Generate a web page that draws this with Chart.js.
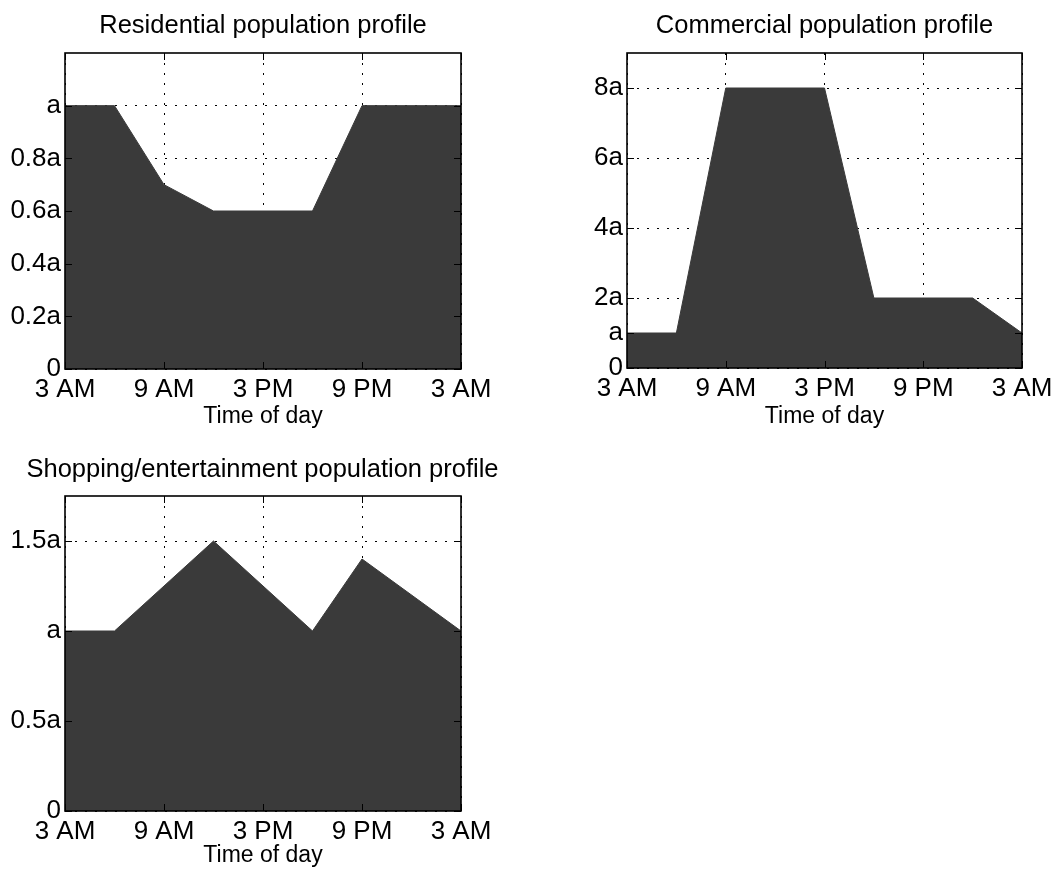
<!DOCTYPE html>
<html>
<head>
<meta charset="utf-8">
<script src="https://cdn.jsdelivr.net/npm/chart.js@4.4.0/dist/chart.umd.min.js"></script>
<style>
  html, body { margin: 0; padding: 0; background: #fff; }
  body { width: 1060px; height: 876px; position: relative; overflow: hidden; }
  canvas { position: absolute; }
</style>
</head>
<body>
<canvas id="res" width="530" height="440" style="left:0px;top:0px;"></canvas>
<canvas id="com" width="500" height="440" style="left:560px;top:0px;"></canvas>
<canvas id="shop" width="530" height="436" style="left:0px;top:440px;"></canvas>
<script>
// ---- data ----
const xTickValues = [0, 6, 12, 18, 24];          // hours after 3 AM
const xTickLabels = ['3 AM', '9 AM', '3 PM', '9 PM', '3 AM'];

const resHours  = [0, 3, 6, 9, 15, 18, 24];
const resValues = [1, 1, 0.7, 0.6, 0.6, 1, 1];
const resTicks  = [0, 0.2, 0.4, 0.6, 0.8, 1];
const resLabels = ['0', '0.2a', '0.4a', '0.6a', '0.8a', 'a'];

const comHours  = [0, 3, 6, 12, 15, 21, 24];
const comValues = [1, 1, 8, 8, 2, 2, 1];
const comTicks  = [0, 1, 2, 4, 6, 8];
const comLabels = ['0', 'a', '2a', '4a', '6a', '8a'];

const shopHours  = [0, 3, 9, 15, 18, 24];
const shopValues = [1, 1, 1.5, 1, 1.4, 1];
const shopTicks  = [0, 0.5, 1, 1.5];
const shopLabels = ['0', '0.5a', 'a', '1.5a'];

const FONT = "'Liberation Sans', Arial, Helvetica, sans-serif";
const FILL = '#3a3a3a';

const framePlugin = {
  id: 'frame',
  afterDatasetsDraw(chart) {
    const {ctx, chartArea: a, scales} = chart;
    ctx.save();
    ctx.strokeStyle = '#000';
    ctx.lineWidth = 1.6;
    ctx.strokeRect(a.left, a.top, a.right - a.left, a.bottom - a.top);
    ctx.lineWidth = 1;
    const L = 7;
    ctx.beginPath();
    scales.x.ticks.forEach(t => {
      const px = Math.round(scales.x.getPixelForValue(t.value)) + 0.5;
      ctx.moveTo(px, a.top); ctx.lineTo(px, a.top + L);
      ctx.moveTo(px, a.bottom); ctx.lineTo(px, a.bottom - L);
    });
    scales.y.ticks.forEach(t => {
      const py = Math.round(scales.y.getPixelForValue(t.value)) + 0.5;
      ctx.moveTo(a.left, py); ctx.lineTo(a.left + L, py);
      ctx.moveTo(a.right, py); ctx.lineTo(a.right - L, py);
    });
    ctx.stroke();
    ctx.restore();
  }
};

function makeChart(id, o) {
  const pts = o.hours.map((h, i) => ({x: h, y: o.values[i]}));
  const scales = {
    x: {
      type: 'linear',
      min: 0, max: 24,
      afterBuildTicks: s => { s.ticks = xTickValues.map(v => ({value: v})); },
      afterFit: s => { s.height = o.xHeight; },
      ticks: {
        autoSkip: false, maxRotation: 0, padding: 5, color: '#000',
        font: { family: FONT, size: 26, lineHeight: 1.2 },
        callback: (v, i) => xTickLabels[i]
      },
      grid: { color: '#000', lineWidth: 1, drawTicks: false },
      border: { display: false, dash: [2, 8] },
      title: {
        display: true, text: 'Time of day', color: '#000',
        font: { family: FONT, size: 23, lineHeight: 1.2 },
        padding: { top: 0, bottom: 0 }
      }
    },
    y: {
      type: 'linear',
      position: 'left',
      min: 0, max: o.ymax,
      afterBuildTicks: s => { s.ticks = o.yTicks.map(v => ({value: v})); },
      afterFit: s => { s.width = o.yWidth; },
      ticks: {
        autoSkip: false, padding: 4, color: '#000',
        font: { family: FONT, size: 26, lineHeight: 1.2 },
        callback: (v, i) => o.yLabels[i]
      },
      grid: { color: '#000', lineWidth: 1, drawTicks: false },
      border: { display: false, dash: [2, 8] }
    }
  };
  if (o.rightWidth) {
    scales.yRight = {
      type: 'linear', position: 'right', min: 0, max: o.ymax,
      afterFit: s => { s.width = o.rightWidth; },
      ticks: { display: false },
      grid: { display: false, drawTicks: false },
      border: { display: false }
    };
  }
  return new Chart(document.getElementById(id), {
    type: 'line',
    data: {
      datasets: [{
        data: pts,
        yAxisID: 'y',
        fill: 'origin',
        backgroundColor: FILL,
        borderColor: FILL,
        borderWidth: 1,
        pointRadius: 0,
        tension: 0
      }]
    },
    options: {
      responsive: false,
      animation: false,
      events: [],
      layout: { padding: o.padding },
      plugins: {
        legend: { display: false },
        tooltip: { enabled: false },
        title: {
          display: true,
          text: o.title,
          color: '#000',
          fullSize: o.titleFull,
          font: { family: FONT, size: 25.5, weight: 'normal', lineHeight: 1.2 },
          padding: o.titlePad
        }
      },
      scales: scales
    },
    plugins: [framePlugin]
  });
}

makeChart('res', {
  title: 'Residential population profile',
  hours: resHours, values: resValues,
  yTicks: resTicks, yLabels: resLabels, ymax: 1.2,
  padding: { left: 0, right: 69, top: 0, bottom: 10 },
  titlePad: { top: 11, bottom: 11.4 },
  titleFull: false,
  xHeight: 61, yWidth: 65
});

makeChart('com', {
  title: 'Commercial population profile',
  hours: comHours, values: comValues,
  yTicks: comTicks, yLabels: comLabels, ymax: 9,
  padding: { left: 0, right: 38, top: 0, bottom: 10 },
  titlePad: { top: 11, bottom: 11.4 },
  titleFull: false,
  xHeight: 62, yWidth: 67
});

makeChart('shop', {
  title: 'Shopping/entertainment population profile',
  hours: shopHours, values: shopValues,
  yTicks: shopTicks, yLabels: shopLabels, ymax: 1.75,
  padding: { left: 0, right: 5, top: 0, bottom: 6.5 },
  titlePad: { top: 15, bottom: 10.4 },
  titleFull: true,
  xHeight: 58.5, yWidth: 65, rightWidth: 64
});
</script>
</body>
</html>
